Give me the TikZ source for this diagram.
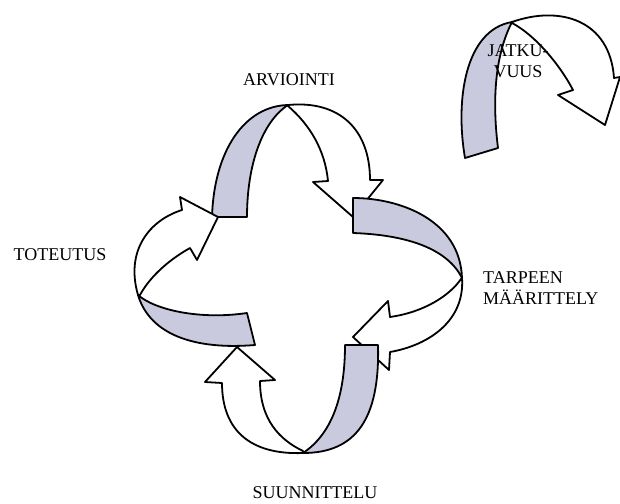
\documentclass[tikz,border=0pt]{standalone}
\usepackage{fontspec}
\setmainfont{Liberation Serif}
\usetikzlibrary{positioning}
\definecolor{band}{HTML}{CACADE}

\begin{document}
\begin{tikzpicture}[
    x=1pt, y=-1pt,
    font=\fontsize{18}{21}\selectfont,
    line join=round,
    back/.style={draw=black, line width=1.8pt, fill=band},
    front/.style={draw=black, line width=1.8pt, fill=white},
    phase/.style={inner sep=0pt, text=black},
]
\useasboundingbox[fill=white] (0,0) rectangle (620,503);

% ── top loop: ARVIOINTI ──
\draw[back] (212,217) .. controls (214,150) and (245,106) .. (288,105)
    .. controls (262,122) and (247,165) .. (247,217) -- cycle;
\draw[front] (288,105) .. controls (340,100) and (370,130) .. (370,180)
    -- (383,180) -- (353,217) -- (313,182) -- (328,181)
    .. controls (325,150) and (310,125) .. (288,106) -- cycle;

% ── right loop: TARPEEN MAARITTELY ──
\draw[back] (353,198) .. controls (400,198) and (460,220) .. (462,278)
    .. controls (448,250) and (410,235) .. (353,233) -- cycle;
\draw[front] (462,278) .. controls (465,320) and (430,345) .. (390,352)
    -- (389,370) -- (353,337) -- (388,301) -- (390,317)
    .. controls (425,312) and (450,295) .. (461,279) -- cycle;

% ── bottom loop: SUUNNITTELU ──
\draw[back] (345,345) -- (378,345) .. controls (380,420) and (355,453) .. (303,453)
    .. controls (330,435) and (345,400) .. (345,345) -- cycle;
\draw[front] (303,453) .. controls (250,455) and (222,430) .. (222,383)
    -- (205,382) -- (237,347) -- (275,380) -- (260,381)
    .. controls (260,420) and (280,440) .. (303,451) -- cycle;

% ── left loop: TOTEUTUS ──
\draw[back] (247,313) .. controls (200,320) and (155,310) .. (138,295)
    .. controls (150,335) and (195,350) .. (255,345) -- cycle;
\draw[front] (138,295) .. controls (125,250) and (150,220) .. (182,210)
    -- (180,197) -- (218,217) -- (197,260) -- (190,248)
    .. controls (165,262) and (148,280) .. (140,295) -- cycle;

% ── separate loop: JATKUVUUS ──
\draw[back] (465,158) .. controls (455,100) and (465,30) .. (512,22)
    .. controls (495,55) and (492,100) .. (498,148) -- cycle;
\draw[front] (512,22) .. controls (560,5) and (610,20) .. (614,78)
    -- (620,77) -- (605,125) -- (558,95) -- (573,90)
    .. controls (560,65) and (535,35) .. (512,23) -- cycle;

% labels
\node[phase] (arv) at (289,80) {ARVIOINTI};
\node[phase] (tot) at (60,255) {TOTEUTUS};
\node[phase, anchor=west, align=left] (tar) at (483,288) {TARPEEN\\MÄÄRITTELY};
\node[phase] (suu) at (315,493) {SUUNNITTELU};
\node[phase, align=center] (jat) at (518,61) {JATKU-\\VUUS};
\end{tikzpicture}
\end{document}
